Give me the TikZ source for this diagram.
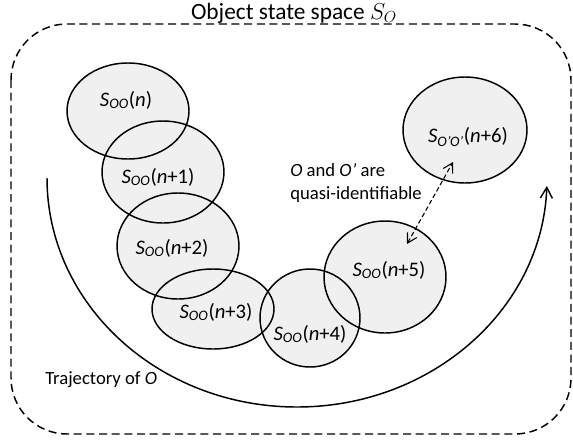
\documentclass[tikz,border=0pt]{standalone}
\usepackage{fontspec}
\setmainfont{Carlito}
\usepackage{xcolor}
\definecolor{ink}{HTML}{000000}
\definecolor{setgray}{HTML}{F0F0F0}
\usetikzlibrary{arrows.meta,shapes.geometric,calc}
\newcommand{\Sset}[2]{\textit{S}\textsubscript{\textit{#1}}(\textit{n}#2)}

\begin{document}
\begin{tikzpicture}[x=0.75pt,y=-0.75pt,
  stateset/.style={ellipse, draw=ink, line width=1.1pt, inner sep=0pt},
  setlbl/.style={font=\fontsize{15.5}{18}\selectfont, inner sep=0pt, text=ink},
  note/.style={font=\fontsize{14}{17.25}\selectfont, inner sep=0pt, text=ink}]
  \useasboundingbox (0,0) rectangle (573,439);
  % object state space
  \draw[ink, line width=1.1pt, dash pattern=on 6pt off 3.5pt, rounded corners=42pt] (11,24) rectangle (571,434);
  \node[font=\fontsize{17.5}{20}\selectfont, inner sep=0pt] (title) at (294,13) {Object state space $S_O$};
  % sets: fills first, outlines on top
  \def\sets{0/128/111/61/48, 1/163/172/61/51, 2/178/246/61/53, 3/213/309/61/40,
            4/310/318/50/49, 5/385/277/61/56, 6/465/130/62/53}
  \foreach \i/\x/\y/\rx/\ry in \sets
    \fill[setgray] (\x,\y) ellipse [x radius=\rx, y radius=\ry];
  \foreach \i/\x/\y/\rx/\ry in \sets
    \node[stateset, minimum width=\rx*1.5pt, minimum height=\ry*1.5pt] (s\i) at (\x,\y) {};
  % set labels
  \node[setlbl] (l0) at ($(s0)+(-2,-11)$) {\Sset{OO}{}};
  \node[setlbl] (l1) at ($(s1)+(-5,5)$) {\Sset{OO}{+1}};
  \node[setlbl] (l2) at ($(s2)+(-6,2)$) {\Sset{OO}{+2}};
  \node[setlbl] (l3) at ($(s3)+(3,3)$) {\Sset{OO}{+3}};
  \node[setlbl] (l4) at ($(s4)+(0,16)$) {\Sset{OO}{+4}};
  \node[setlbl] (l5) at ($(s5)+(4,-7)$) {\Sset{OO}{+5}};
  \node[setlbl] (l6) at ($(s6)+(3,7)$) {\Sset{O'O'}{+6}};
  % quasi-identifiable pair
  \coordinate (qa) at ($(s5)+(22,-33)$);
  \coordinate (qb) at ($(s6)+(-12,32)$);
  \draw[ink, line width=0.8pt, dash pattern=on 3.5pt off 2pt,
        {Straight Barb[length=7pt,width=8pt]}-{Straight Barb[length=7pt,width=8pt]}] (qa) -- (qb);
  \node[note, anchor=west, align=left] (quasi) at (290,183.5) {\textit{O} and \textit{O'} are\\quasi-identifiable};
  % trajectory
  \draw[ink, line width=1.1pt, -{Straight Barb[length=8pt,width=9pt]}]
    (47,178) arc[start angle=180, end angle=2, x radius=250, y radius=229];
  \node[note, anchor=west] (traj) at (45,380) {Trajectory of \textit{O}};
\end{tikzpicture}
\end{document}
